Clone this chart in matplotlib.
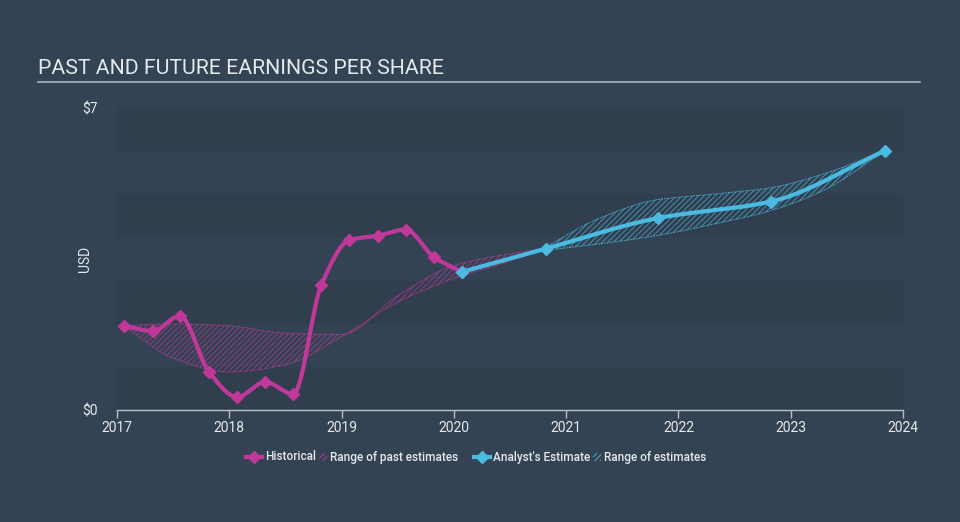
import numpy as np
import matplotlib
matplotlib.use("Agg")
import matplotlib.pyplot as plt
import matplotlib.patches as mpatches
from matplotlib.lines import Line2D

# ---------------- data ----------------
hist_t = [2017.06, 2017.32, 2017.56, 2017.82, 2018.07, 2018.32, 2018.57,
          2018.82, 2019.07, 2019.32, 2019.57, 2019.82, 2020.07]
hist_eps = [1.95, 1.83, 2.18, 0.88, 0.30, 0.65, 0.37,
            2.90, 3.94, 4.04, 4.18, 3.55, 3.20]

est_t = [2020.07, 2020.82, 2021.82, 2022.82, 2023.84]
est_eps = [3.20, 3.74, 4.45, 4.83, 6.01]

past_rng_t = [2017.06, 2017.5, 2018.0, 2018.5, 2019.0, 2019.5, 2020.0, 2020.5, 2020.82]
past_rng_hi = [1.95, 2.00, 1.95, 1.78, 1.75, 2.65, 3.35, 3.62, 3.74]
past_rng_lo = [1.95, 1.20, 0.88, 1.05, 1.70, 2.50, 3.05, 3.45, 3.74]

fut_rng_t = [2020.82, 2021.3, 2021.82, 2022.3, 2022.82, 2023.3, 2023.84]
fut_rng_hi = [3.78, 4.45, 4.88, 5.00, 5.15, 5.48, 6.01]
fut_rng_lo = [3.70, 3.85, 4.05, 4.30, 4.62, 5.10, 6.01]

year_ticks = [2017, 2018, 2019, 2020, 2021, 2022, 2023, 2024]
y_ticks = [0, 7]
y_tick_labels = ["$0", "$7"]

legend_labels = ["Historical", "Range of past estimates", "Analyst's Estimate", "Range of estimates"]

# ---------------- styles ----------------
BG = "#344353"
BAND = "#313e4e"
PINK = "#c0399a"
BLUE = "#4bbbe2"
TXT = "#e6e9ec"
AX = "#b8bec6"
W, H = 960, 522


def smooth(x, y, n=40):
    """Monotone cubic (Fritsch-Carlson) curve through given points for drawing."""
    x = np.asarray(x, float)
    y = np.asarray(y, float)
    h = np.diff(x)
    d = np.diff(y) / h
    m = np.zeros_like(y)
    m[0], m[-1] = d[0], d[-1]
    for i in range(1, len(y) - 1):
        if d[i - 1] * d[i] <= 0:
            m[i] = 0
        else:
            w1 = 2 * h[i] + h[i - 1]
            w2 = h[i] + 2 * h[i - 1]
            m[i] = (w1 + w2) / (w1 / d[i - 1] + w2 / d[i])
    xs, ys = [], []
    for i in range(len(h)):
        t = np.linspace(0, 1, n, endpoint=(i == len(h) - 1))
        h00 = 2 * t**3 - 3 * t**2 + 1
        h10 = t**3 - 2 * t**2 + t
        h01 = -2 * t**3 + 3 * t**2
        h11 = t**3 - t**2
        xs.append(x[i] + t * h[i])
        ys.append(h00 * y[i] + h10 * h[i] * m[i] + h01 * y[i + 1] + h11 * h[i] * m[i + 1])
    return np.concatenate(xs), np.concatenate(ys)


plt.rcParams["hatch.linewidth"] = 0.6
plt.rcParams["font.family"] = ["Roboto", "DejaVu Sans"]

fig = plt.figure(figsize=(9.6, 5.22), dpi=100, facecolor=BG)
ax = fig.add_axes([117 / W, 1 - 410 / H, (903 - 117) / W, (410 - 108) / H])
ax.set_facecolor(BG)
ax.set_xlim(2017, 2024)
ax.set_ylim(0, 7)

# alternating bands
for k in range(0, 7, 2):
    ax.axhspan(k, k + 1, color=BAND, lw=0, zorder=0)

# past range
xs, hi = smooth(past_rng_t, past_rng_hi)
_, lo = smooth(past_rng_t, past_rng_lo)
ax.fill_between(xs, lo, hi, facecolor="none", edgecolor=PINK, hatch="//////",
                lw=0, alpha=0.75, zorder=2)
ax.plot(xs, hi, color=PINK, lw=0.7, ls=(0, (2, 1)), alpha=0.8, zorder=2)
ax.plot(xs, lo, color=PINK, lw=0.7, ls=(0, (2, 1)), alpha=0.8, zorder=2)

# future range
xs, hi = smooth(fut_rng_t, fut_rng_hi)
_, lo = smooth(fut_rng_t, fut_rng_lo)
ax.fill_between(xs, lo, hi, facecolor="none", edgecolor=BLUE, hatch="//////",
                lw=0, alpha=0.75, zorder=2)
ax.plot(xs, hi, color=BLUE, lw=0.7, ls=(0, (2, 1)), alpha=0.8, zorder=2)
ax.plot(xs, lo, color=BLUE, lw=0.7, ls=(0, (2, 1)), alpha=0.8, zorder=2)

# historical line
sx, sy = smooth(hist_t, hist_eps)
ax.plot(sx, sy, color=PINK, lw=3, solid_capstyle="round", zorder=4)
ax.plot(hist_t, hist_eps, ls="none", marker="D", ms=6.5, color=PINK, zorder=5)

# estimate line
sx, sy = smooth(est_t, est_eps)
ax.plot(sx, sy, color=BLUE, lw=3, solid_capstyle="round", zorder=4)
ax.plot(est_t, est_eps, ls="none", marker="D", ms=6.5, color=BLUE, zorder=5)

# axes styling
for s in ["top", "right", "left"]:
    ax.spines[s].set_visible(False)
ax.spines["bottom"].set_color(AX)
ax.spines["bottom"].set_linewidth(1)
ax.set_xticks(year_ticks)
ax.set_xticklabels([str(y) for y in year_ticks])
ax.tick_params(axis="x", colors=AX, labelcolor=TXT, length=6, width=1,
               labelsize=10, pad=2)
ax.set_yticks(y_ticks)
ax.set_yticklabels(y_tick_labels)
ax.tick_params(axis="y", length=0, labelcolor=TXT, labelsize=10, pad=14)
ax.set_ylabel("USD", color=TXT, fontsize=10)
ax.yaxis.set_label_coords((92 - 117) / 786, 0.5)

# title and underline
fig.text(38 / W, 1 - 68 / H, "PAST AND FUTURE EARNINGS PER SHARE",
         color=TXT, fontsize=15.3, va="center", ha="left")
fig.add_artist(Line2D([38 / W, 920 / W], [1 - 82 / H, 1 - 82 / H],
                      color="#aab3bd", lw=1.2))

# manual legend
renderer = fig.canvas.get_renderer()
ly = 1 - 457 / H
FS = 8.5


def text_w(s):
    t = fig.text(0, 0, s, fontsize=FS, fontweight="medium")
    w = t.get_window_extent(renderer).width
    t.remove()
    return w


items = [("line", PINK), ("text", legend_labels[0]), ("patch", PINK), ("text", legend_labels[1]),
         ("gap", None), ("line", BLUE), ("text", legend_labels[2]), ("patch", BLUE),
         ("text", legend_labels[3])]
widths = []
for kind, v in items:
    if kind == "line":
        widths.append(16 + 3)
    elif kind == "patch":
        widths.append(8 + 3)
    elif kind == "gap":
        widths.append(13)
    else:
        widths.append(text_w(v) + 3)
total = sum(widths) - 3
x = 476 - total / 2
for (kind, v), w in zip(items, widths):
    if kind == "line":
        fig.add_artist(Line2D([x / W, (x + 16) / W], [ly, ly], color=v, lw=3))
        fig.add_artist(Line2D([(x + 8) / W], [ly], color=v, marker="D", ms=6, ls="none"))
    elif kind == "patch":
        fig.add_artist(mpatches.Rectangle((x / W, ly - 4 / H), 8 / W, 8 / H,
                                          facecolor="none", edgecolor=v, hatch="//////",
                                          lw=0, transform=fig.transFigure))
    elif kind == "text":
        fig.text(x / W, ly, v, fontsize=FS, fontweight="medium", color=TXT,
                 va="center", ha="left")
    x += w

fig.savefig("out.png", dpi=100, facecolor=BG)
